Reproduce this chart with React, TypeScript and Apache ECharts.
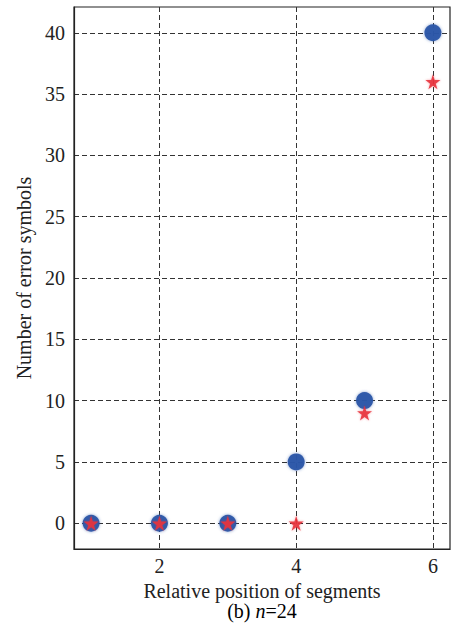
import React, { useEffect, useRef } from "react";
import * as echarts from "echarts";

// Relative segment positions and error-symbol counts for the two decoders
const positions = [1, 2, 3, 4, 5, 6];
const circleErrors = [0, 0, 0, 5, 10, 40];
const starErrors = [0, 0, 0, 0, 9, 36];
const xTicks = [2, 4, 6];
const yTicks = [0, 5, 10, 15, 20, 25, 30, 35, 40];

const FONT = "Liberation Serif, serif";
const INK = "#222";

export default function App() {
  const ref = useRef<HTMLDivElement>(null);

  useEffect(() => {
    if (!ref.current) return;
    const chart = echarts.init(ref.current, undefined, { renderer: "svg" });
    const gridLine = { show: true, lineStyle: { color: "#333", type: [5, 3] as any, width: 1 } };
    const plain = { fontFamily: FONT, fontSize: 20, color: INK, fontWeight: "normal" as const };
    chart.setOption({
      animation: false,
      backgroundColor: "#fff",
      textStyle: { fontFamily: FONT },
      grid: {
        left: 74,
        top: 7,
        right: 2,
        bottom: 86,
        show: true,
        borderColor: INK,
        borderWidth: 1.2,
        containLabel: false,
      },
      graphic: [
        {
          type: "text",
          x: 262,
          y: 611,
          style: {
            text: "{a|(b) }{i|n}{a|=24}",
            align: "center",
            verticalAlign: "middle",
            rich: {
              a: plain,
              i: { ...plain, fontStyle: "italic" },
            },
          },
        },
      ],
      xAxis: {
        type: "value",
        min: 0.75,
        max: 6.25,
        name: "Relative position of segments",
        nameLocation: "middle",
        nameGap: 31,
        nameTextStyle: plain,
        axisLine: { show: true, onZero: false, lineStyle: { color: INK, width: 1.2 } },
        axisTick: { show: false, customValues: xTicks },
        axisLabel: { ...plain, customValues: xTicks, margin: 7 },
        splitLine: gridLine,
      },
      yAxis: {
        type: "value",
        min: -2.1,
        max: 42.1,
        name: "Number of error symbols",
        nameLocation: "middle",
        nameGap: 40,
        nameTextStyle: plain,
        axisLine: { show: true, onZero: false, lineStyle: { color: INK, width: 1.2 } },
        axisTick: { show: false, customValues: yTicks },
        axisLabel: { ...plain, customValues: yTicks, margin: 9 },
        splitLine: gridLine,
      },
      series: [
        {
          type: "scatter",
          symbol: "circle",
          symbolSize: 17,
          data: positions.map((p, i) => [p, circleErrors[i]]),
          itemStyle: {
            color: "#2a56a8",
            opacity: 0.95,
            shadowBlur: 3,
            shadowColor: "rgba(42,86,168,0.6)",
          },
          z: 2,
        },
        {
          type: "scatter",
          symbol: "path://M50,0 L61,35 L98,35 L68,57 L79,91 L50,70 L21,91 L32,57 L2,35 L39,35 Z",
          symbolSize: 15,
          data: positions.map((p, i) => [p, starErrors[i]]),
          itemStyle: {
            color: "#e8323c",
            opacity: 0.9,
            shadowBlur: 2,
            shadowColor: "rgba(232,50,60,0.5)",
          },
          z: 3,
        },
      ],
    });
    return () => chart.dispose();
  }, []);

  return <div ref={ref} style={{ width: 452, height: 635, position: "absolute", left: 0, top: 0 }} />;
}
